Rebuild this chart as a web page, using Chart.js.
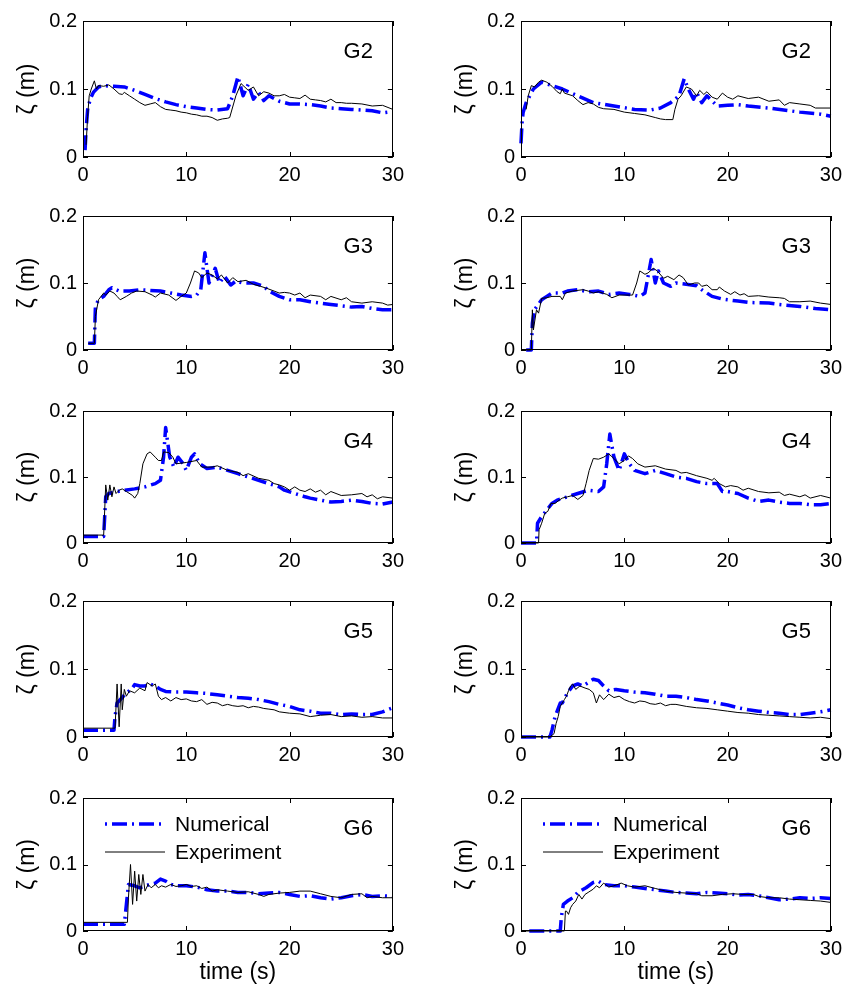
<!DOCTYPE html>
<html>
<head>
<meta charset="utf-8">
<script src="https://cdn.jsdelivr.net/npm/chart.js@4"></script>
<style>
body{margin:0;background:#fff;}
#fig{position:relative;width:850px;height:990px;overflow:hidden;}
#fig canvas{position:absolute;}
</style>
</head>
<body>
<div id="fig"></div>
<script>
// gauge names, axis ticks
const gauges = ['G2','G3','G4','G5','G6'];
const xTicks = [0,10,20,30];
const yTicks = [0,0.1,0.2];

// [time (s), zeta (m)], left column
const g2aNum = [[0.2,0.01],[0.3,0.04],[0.45,0.07],[0.7,0.085],[1.0,0.095],[1.5,0.103],[2,0.105],[3,0.104],[4,0.103],[5,0.098],[6,0.092],[7,0.086],[8,0.081],[9,0.077],[10,0.074],[11,0.072],[12,0.07],[13,0.069],[14,0.071],[14.5,0.09],[15,0.118],[15.5,0.09],[16,0.107],[16.5,0.085],[17,0.095],[17.5,0.083],[18,0.09],[19,0.082],[20,0.078],[21,0.078],[22,0.077],[23,0.075],[24,0.072],[25,0.071],[26,0.07],[27,0.069],[28,0.068],[29,0.065],[30,0.067]];
const g2aExp = [[0.3,0.018],[0.45,0.06],[0.6,0.09],[0.8,0.1],[1.1,0.112],[1.3,0.1],[1.5,0.105],[2,0.104],[2.5,0.106],[3,0.1],[3.5,0.093],[3.8,0.092],[4,0.095],[4.5,0.09],[5,0.085],[5.5,0.08],[6,0.076],[6.5,0.078],[7,0.08],[7.5,0.074],[8,0.07],[8.5,0.069],[9,0.068],[9.5,0.066],[10,0.065],[10.5,0.063],[11,0.062],[11.5,0.06],[12,0.06],[12.5,0.058],[13,0.054],[13.5,0.056],[14,0.057],[14.2,0.058],[14.8,0.09],[15.3,0.108],[16,0.098],[16.5,0.103],[17,0.09],[17.5,0.096],[18,0.094],[18.5,0.09],[19,0.09],[19.5,0.092],[20,0.088],[20.5,0.087],[21,0.086],[21.5,0.091],[22,0.085],[22.5,0.084],[23,0.083],[23.5,0.081],[24,0.085],[24.5,0.08],[25,0.08],[25.5,0.079],[26,0.079],[27,0.078],[28,0.075],[29,0.076],[30,0.07]];
const g3aNum = [[0.5,0.01],[1.1,0.01],[1.2,0.065],[1.5,0.075],[2,0.08],[2.5,0.09],[2.8,0.093],[3.5,0.088],[4.5,0.088],[5.5,0.09],[6.5,0.089],[7.5,0.088],[8.5,0.085],[9.5,0.082],[10.5,0.08],[11,0.082],[11.4,0.09],[11.8,0.145],[12.2,0.1],[12.8,0.122],[13.2,0.1],[13.7,0.11],[14.3,0.097],[14.8,0.103],[15.5,0.1],[16.5,0.1],[17.5,0.095],[18,0.088],[19,0.08],[20,0.075],[21,0.075],[22,0.072],[23,0.07],[24,0.068],[25,0.066],[26,0.064],[27,0.065],[28,0.062],[29,0.06],[30,0.06]];
const g3aExp = [[0.5,0.01],[1.1,0.01],[1.2,0.05],[1.5,0.075],[2,0.085],[2.2,0.082],[2.6,0.088],[3,0.085],[3.3,0.08],[3.6,0.075],[4.2,0.08],[4.7,0.085],[5.2,0.088],[6,0.087],[6.7,0.082],[7,0.079],[7.5,0.085],[8.3,0.082],[9,0.074],[9.5,0.08],[10,0.085],[10.4,0.1],[10.8,0.118],[11.2,0.115],[11.5,0.108],[12,0.115],[12.5,0.112],[13,0.106],[13.4,0.112],[14,0.1],[14.5,0.108],[15,0.102],[15.8,0.104],[16.5,0.098],[17.2,0.095],[17.8,0.092],[18.5,0.088],[19,0.085],[19.5,0.086],[20,0.085],[20.5,0.082],[21,0.085],[21.5,0.078],[22,0.082],[23,0.08],[23.5,0.075],[24,0.08],[25,0.075],[25.5,0.078],[26,0.072],[27,0.07],[28,0.072],[29,0.07],[29.5,0.067],[30,0.068]];
const g4aNum = [[0,0.01],[2,0.01],[2.2,0.07],[2.5,0.075],[3,0.077],[4,0.08],[5,0.082],[6,0.085],[7,0.09],[7.5,0.095],[7.8,0.13],[8,0.175],[8.4,0.13],[8.8,0.115],[9.2,0.13],[9.7,0.12],[10,0.11],[10.5,0.13],[10.8,0.135],[11.3,0.12],[12,0.113],[13,0.115],[14,0.11],[15,0.105],[16,0.1],[17,0.095],[18,0.09],[19,0.085],[19.5,0.08],[20.5,0.075],[21.5,0.07],[22,0.068],[23,0.065],[24,0.062],[25,0.063],[26,0.065],[27,0.063],[28,0.06],[29,0.059],[30,0.062]];
const g4aExp = [[0,0.012],[2,0.012],[2.1,0.05],[2.2,0.088],[2.4,0.065],[2.6,0.088],[2.8,0.07],[3,0.085],[3.2,0.075],[3.5,0.08],[3.8,0.082],[4.2,0.078],[4.8,0.072],[5,0.068],[5.3,0.075],[5.5,0.09],[5.8,0.12],[6.2,0.135],[6.5,0.138],[7,0.13],[7.3,0.125],[7.6,0.125],[7.8,0.138],[8.3,0.137],[8.7,0.13],[9,0.12],[10,0.122],[11,0.125],[11.5,0.115],[12.5,0.115],[13,0.117],[14,0.11],[15,0.107],[15.5,0.102],[16,0.105],[17,0.098],[18,0.095],[18.5,0.09],[19,0.088],[19.5,0.085],[20,0.08],[20.5,0.085],[21,0.08],[21.5,0.078],[22,0.082],[22.5,0.077],[23,0.08],[23.5,0.073],[24,0.078],[25,0.072],[26,0.073],[27,0.075],[27.5,0.07],[28,0.073],[28.5,0.067],[29,0.07],[30,0.068]];
const g5aNum = [[0,0.01],[3,0.01],[3.1,0.03],[3.3,0.05],[3.8,0.058],[4.2,0.065],[4.7,0.07],[5,0.077],[5.5,0.075],[6,0.075],[6.5,0.078],[7,0.075],[7.5,0.07],[8,0.067],[9,0.066],[10,0.066],[11,0.065],[12,0.064],[13,0.062],[14,0.06],[15,0.058],[16,0.057],[17,0.055],[18,0.052],[19,0.048],[20,0.045],[21,0.04],[22,0.038],[23,0.035],[24,0.035],[25,0.033],[26,0.034],[27,0.033],[28,0.033],[29,0.037],[30,0.043]];
const g5aExp = [[0,0.013],[3.1,0.013],[3.3,0.078],[3.5,0.015],[3.7,0.078],[3.8,0.04],[4,0.07],[4.2,0.06],[4.5,0.068],[5,0.065],[5.5,0.072],[6,0.068],[6.2,0.08],[6.7,0.075],[7,0.078],[7.3,0.06],[7.6,0.055],[8,0.058],[8.5,0.053],[9,0.058],[9.5,0.055],[10,0.056],[10.5,0.053],[11,0.052],[11.5,0.055],[12,0.048],[12.5,0.051],[13,0.05],[13.5,0.046],[14,0.048],[14.5,0.046],[15,0.045],[15.5,0.046],[16,0.043],[16.5,0.045],[17,0.044],[17.5,0.042],[18,0.041],[18.5,0.04],[19,0.037],[20,0.035],[21,0.034],[22,0.03],[23,0.032],[24,0.033],[25,0.03],[26,0.031],[27,0.029],[28,0.03],[29,0.028],[30,0.028]];
const g6aNum = [[0,0.01],[4,0.01],[4.2,0.04],[4.4,0.07],[5,0.068],[5.5,0.065],[6,0.068],[7,0.072],[7.5,0.078],[8,0.075],[8.5,0.07],[9,0.068],[10,0.068],[11,0.066],[12,0.062],[13,0.06],[14,0.06],[15,0.058],[16,0.058],[17,0.056],[18,0.057],[19,0.058],[20,0.055],[21,0.052],[22,0.053],[23,0.05],[24,0.048],[25,0.05],[26,0.053],[27,0.055],[28,0.052],[29,0.053],[30,0.052]];
const g6aExp = [[0,0.013],[4.3,0.013],[4.4,0.05],[4.6,0.1],[4.8,0.04],[5,0.09],[5.2,0.045],[5.4,0.085],[5.6,0.055],[5.8,0.085],[6,0.06],[6.3,0.07],[6.6,0.065],[7,0.07],[7.3,0.065],[7.6,0.068],[8,0.066],[8.5,0.07],[9,0.067],[9.5,0.068],[10,0.07],[10.5,0.067],[11,0.068],[11.5,0.064],[12,0.066],[12.5,0.06],[13,0.062],[14,0.06],[15,0.058],[16,0.059],[17,0.055],[17.5,0.052],[18,0.055],[19,0.057],[20,0.058],[21,0.06],[22,0.06],[23,0.056],[24,0.052],[25,0.05],[26,0.055],[27,0.056],[27.5,0.05],[28,0.052],[29,0.05],[30,0.05]];

// right column
const g2bNum = [[0,0.02],[0.1,0.05],[0.2,0.065],[0.5,0.08],[1.2,0.1],[2,0.11],[3,0.105],[4,0.1],[5.5,0.09],[7,0.08],[9,0.075],[11,0.07],[12.5,0.069],[13.5,0.072],[14.5,0.08],[15.3,0.09],[15.8,0.115],[16.2,0.1],[16.7,0.085],[17,0.095],[17.5,0.08],[18,0.09],[19,0.075],[20,0.076],[21,0.077],[22,0.075],[24,0.072],[26,0.068],[27,0.066],[29,0.063],[30,0.06]];
const g2bExp = [[0.5,0.07],[0.7,0.09],[1,0.105],[1.3,0.103],[1.7,0.11],[2,0.113],[2.5,0.11],[3,0.104],[3.5,0.096],[3.8,0.093],[4,0.1],[4.2,0.094],[5,0.09],[5.5,0.083],[6,0.077],[6.5,0.08],[7,0.078],[7.5,0.073],[8,0.071],[9,0.07],[10,0.066],[11,0.064],[12,0.062],[13,0.058],[13.5,0.056],[14,0.055],[14.7,0.055],[14.9,0.07],[15.2,0.085],[15.5,0.09],[16,0.103],[16.5,0.1],[17,0.09],[17.3,0.098],[17.7,0.092],[18,0.096],[18.5,0.088],[19,0.085],[19.5,0.094],[20,0.088],[20.5,0.085],[21,0.09],[22,0.086],[23,0.088],[24,0.082],[25,0.084],[25.5,0.076],[26,0.08],[27,0.078],[28,0.076],[28.5,0.072],[30,0.072]];
const g3bNum = [[0.5,0],[1,0],[1.1,0.04],[1.3,0.06],[2,0.075],[2.5,0.08],[3,0.085],[4,0.085],[4.5,0.088],[5.5,0.09],[6.5,0.087],[7.5,0.088],[8.5,0.083],[9.5,0.085],[10.5,0.083],[11.5,0.08],[12,0.085],[12.3,0.11],[12.6,0.135],[13,0.1],[13.3,0.118],[13.8,0.1],[14.5,0.095],[15,0.1],[16,0.098],[17,0.096],[17.5,0.09],[18,0.085],[18.5,0.08],[19.5,0.076],[21,0.073],[22,0.071],[24,0.07],[25,0.068],[27,0.065],[28.5,0.062],[30,0.06]];
const g3bExp = [[0.5,0],[1,0],[1.1,0.06],[1.2,0.03],[1.5,0.06],[1.7,0.055],[2,0.077],[2.5,0.078],[3,0.08],[3.8,0.08],[4,0.075],[4.3,0.085],[5,0.088],[6,0.09],[6.5,0.088],[7,0.085],[7.5,0.087],[8.3,0.083],[8.8,0.078],[9.5,0.082],[10.8,0.082],[11.2,0.1],[11.5,0.118],[12,0.113],[12.3,0.115],[12.8,0.122],[13.2,0.118],[13.8,0.107],[14.2,0.11],[14.8,0.105],[15.3,0.112],[15.7,0.108],[16.2,0.097],[16.8,0.1],[17.2,0.1],[17.5,0.095],[18,0.097],[18.5,0.09],[19,0.09],[19.2,0.094],[19.7,0.088],[20.3,0.083],[20.7,0.087],[21.2,0.082],[21.6,0.084],[22,0.08],[23,0.081],[24,0.079],[25,0.078],[25.5,0.077],[26,0.072],[27,0.072],[28,0.073],[29,0.07],[30,0.068]];
const g4bNum = [[0,0],[1.5,0],[1.6,0.03],[2,0.04],[2.5,0.05],[3,0.06],[3.5,0.065],[4.5,0.07],[5.5,0.075],[6.5,0.08],[7.5,0.078],[8,0.085],[8.3,0.12],[8.6,0.165],[9,0.13],[9.5,0.11],[10,0.135],[10.5,0.12],[11,0.11],[12,0.105],[13,0.11],[14,0.105],[15,0.1],[16,0.098],[17,0.093],[18,0.09],[19,0.09],[19.5,0.078],[20,0.078],[21,0.075],[22,0.068],[23,0.063],[24,0.065],[25,0.062],[26,0.06],[27,0.06],[28,0.058],[29,0.058],[30,0.06]];
const g4bExp = [[0,0],[1.7,0],[1.75,0.02],[2,0.03],[2.3,0.045],[2.6,0.048],[2.9,0.06],[3.3,0.06],[3.7,0.065],[4,0.068],[4.5,0.07],[5,0.072],[5.5,0.066],[6,0.072],[6.3,0.09],[6.6,0.11],[7,0.128],[7.5,0.127],[8,0.13],[8.5,0.135],[9,0.128],[9.5,0.12],[10,0.125],[10.4,0.132],[10.8,0.128],[11.3,0.12],[12,0.115],[13,0.117],[14,0.112],[15,0.11],[15.5,0.106],[16,0.107],[17,0.102],[18,0.098],[18.5,0.095],[18.7,0.098],[19.2,0.09],[19.8,0.085],[20.3,0.087],[21,0.085],[21.5,0.08],[22,0.083],[23,0.078],[24,0.076],[25,0.077],[25.5,0.072],[26,0.074],[27,0.07],[27.5,0.073],[28,0.068],[29,0.072],[30,0.068]];
const g5bNum = [[0,0],[2.8,0],[3,0.01],[3.3,0.03],[3.8,0.05],[4,0.05],[4.5,0.065],[5,0.075],[5.5,0.078],[6,0.075],[6.5,0.08],[7,0.085],[7.5,0.083],[8,0.075],[8.5,0.068],[9.2,0.07],[10,0.068],[11,0.066],[12,0.065],[13,0.063],[14,0.06],[15,0.06],[16,0.058],[17,0.055],[18,0.053],[19,0.05],[20,0.047],[21,0.043],[22,0.04],[23,0.038],[24,0.036],[25,0.035],[26,0.033],[27,0.033],[28,0.035],[29,0.037],[30,0.04]];
const g5bExp = [[0,0],[2.8,0],[3.2,0.005],[3.4,0.02],[3.6,0.03],[3.8,0.045],[4,0.05],[4.2,0.055],[4.4,0.06],[4.6,0.068],[4.8,0.075],[5,0.078],[5.3,0.07],[5.7,0.075],[6.2,0.072],[6.6,0.07],[7,0.065],[7.3,0.05],[7.6,0.062],[8,0.055],[8.5,0.063],[9,0.058],[9.5,0.06],[10,0.055],[10.5,0.052],[11,0.05],[11.5,0.053],[12,0.052],[12.5,0.049],[13,0.048],[13.5,0.05],[14,0.046],[14.5,0.048],[15,0.048],[16,0.045],[17,0.043],[18,0.042],[19,0.04],[20,0.038],[21,0.036],[22,0.035],[23,0.033],[24,0.032],[25,0.031],[26,0.03],[27,0.029],[28,0.028],[29,0.029],[30,0.027]];
const g6bNum = [[0.8,0],[3.8,0],[3.9,0.02],[4.1,0.04],[4.5,0.045],[5,0.05],[5.5,0.058],[6.3,0.065],[7,0.073],[7.5,0.075],[8,0.07],[9,0.068],[10,0.068],[11,0.066],[12,0.064],[13,0.062],[14,0.06],[15,0.058],[16,0.057],[17,0.056],[18,0.058],[19,0.057],[20,0.056],[21,0.054],[22,0.055],[23,0.053],[24,0.05],[25,0.047],[26,0.048],[27,0.05],[28,0.049],[29,0.05],[30,0.049]];
const g6bExp = [[0,0],[4.2,0],[4.3,0.03],[4.4,0.03],[4.6,0.025],[4.8,0.035],[5,0.04],[5.3,0.045],[5.6,0.055],[5.9,0.048],[6.2,0.055],[6.5,0.058],[7,0.063],[7.3,0.068],[7.6,0.065],[8,0.072],[8.5,0.066],[9,0.068],[9.7,0.072],[10.3,0.068],[11,0.066],[12,0.068],[13,0.064],[14,0.06],[15,0.058],[16,0.057],[17,0.056],[17.5,0.053],[18.5,0.053],[19.5,0.055],[20.5,0.056],[21.5,0.055],[22.5,0.055],[23,0.052],[24,0.05],[25,0.05],[26,0.048],[27,0.047],[28,0.046],[29,0.045],[30,0.043]];

const leftCol  = [[g2aNum,g2aExp],[g3aNum,g3aExp],[g4aNum,g4aExp],[g5aNum,g5aExp],[g6aNum,g6aExp]];
const rightCol = [[g2bNum,g2bExp],[g3bNum,g3bExp],[g4bNum,g4bExp],[g5bNum,g5bExp],[g6bNum,g6bExp]];

const FONT = '"Liberation Sans", Arial, Helvetica, sans-serif';
const colX = [0, 438];
const rowTop = [17, 212, 407, 597, 794];
const rowH = [140, 138, 136, 140, 137];
const PAD_T = 14;

function toXY(arr){
	return arr.map(function(p){ return {x:p[0], y:p[1]}; });
}

const framePlugin = {
	id:'frame',
	afterDatasetsDraw(chart, args, opts){
		const ctx = chart.ctx;
		const a = chart.chartArea;
		const xs = chart.scales.x, ys = chart.scales.y;
		ctx.save();
		ctx.strokeStyle = '#000';
		ctx.lineWidth = 1;
		ctx.setLineDash([]);
		ctx.strokeRect(Math.round(a.left)+0.5, Math.round(a.top)+0.5, Math.round(a.right-a.left)-1, Math.round(a.bottom-a.top)-1);
		ctx.beginPath();
		xTicks.forEach(function(v){
			const px = Math.round(xs.getPixelForValue(v))+0.5;
			ctx.moveTo(px,a.bottom); ctx.lineTo(px,a.bottom-5);
			ctx.moveTo(px,a.top); ctx.lineTo(px,a.top+5);
		});
		yTicks.forEach(function(v){
			const py = Math.round(ys.getPixelForValue(v))+0.5;
			ctx.moveTo(a.left,py); ctx.lineTo(a.left+5,py);
			ctx.moveTo(a.right,py); ctx.lineTo(a.right-5,py);
		});
		ctx.stroke();

		ctx.fillStyle = '#000';
		ctx.font = '22px ' + FONT;
		ctx.textAlign = 'right';
		ctx.textBaseline = 'middle';
		ctx.fillText(opts.label, a.right-20, a.top+31);

		if(opts.legend){
			ctx.font = '21px ' + FONT;
			ctx.textAlign = 'left';
			chart.data.datasets.forEach(function(ds, i){
				const y = a.top + 26 + i*28;
				ctx.save();
				ctx.strokeStyle = ds.borderColor;
				ctx.lineWidth = ds.borderWidth;
				ctx.setLineDash(ds.borderDash || []);
				ctx.lineDashOffset = ds.borderDash ? 20 : 0;
				ctx.beginPath();
				ctx.moveTo(a.left+22, y);
				ctx.lineTo(a.left+82, y);
				ctx.stroke();
				ctx.restore();
				ctx.fillText(ds.label, a.left+92, y+1);
			});
		}
		ctx.restore();
	}
};

const fig = document.getElementById('fig');

function makePanel(col, row, series){
	const last = row === gauges.length-1;
	const xH = last ? 55 : 30;
	const cv = document.createElement('canvas');
	cv.width = 410;
	cv.height = PAD_T + rowH[row] + xH;
	cv.style.left = colX[col] + 'px';
	cv.style.top = (rowTop[row]-PAD_T) + 'px';
	fig.appendChild(cv);

	new Chart(cv, {
		type:'line',
		data:{
			datasets:[{
				label:'Numerical',
				data:toXY(series[0]),
				borderColor:'#0000ff',
				borderWidth:3.5,
				borderDash:[15,5,2,5],
				borderJoinStyle:'round',
				pointRadius:0,
				tension:0,
				clip:4,
				order:1
			},{
				label:'Experiment',
				data:toXY(series[1]),
				borderColor:'#000',
				borderWidth:1,
				borderJoinStyle:'round',
				pointRadius:0,
				tension:0,
				clip:4,
				order:0
			}]
		},
		options:{
			responsive:false,
			animation:false,
			events:[],
			layout:{padding:{left:0,right:12,top:PAD_T,bottom:0}},
			plugins:{
				legend:{display:false},
				tooltip:{enabled:false},
				frame:{label:gauges[row], legend:last}
			},
			scales:{
				x:{
					type:'linear', min:0, max:30,
					grid:{display:false, drawTicks:false},
					border:{display:false},
					ticks:{stepSize:10, color:'#000', padding:6, maxRotation:0, font:{family:FONT,size:20}},
					title:{display:last, text:'time (s)', color:'#000', padding:{top:0,bottom:0}, font:{family:FONT,size:23}},
					afterFit:function(s){ s.height = xH; }
				},
				y:{
					min:0, max:0.2,
					grid:{display:false, drawTicks:false},
					border:{display:false},
					ticks:{stepSize:0.1, color:'#000', padding:6, font:{family:FONT,size:20},
						callback:function(v){ return v === 0 ? '0' : v.toFixed(1); }},
					title:{display:true, text:'ζ (m)', color:'#000', padding:{top:14,bottom:0}, font:{family:FONT,size:23}},
					afterFit:function(s){ s.width = 83; }
				}
			}
		},
		plugins:[framePlugin]
	});
}

leftCol.forEach(function(s, r){ makePanel(0, r, s); });
rightCol.forEach(function(s, r){ makePanel(1, r, s); });
</script>
</body>
</html>
